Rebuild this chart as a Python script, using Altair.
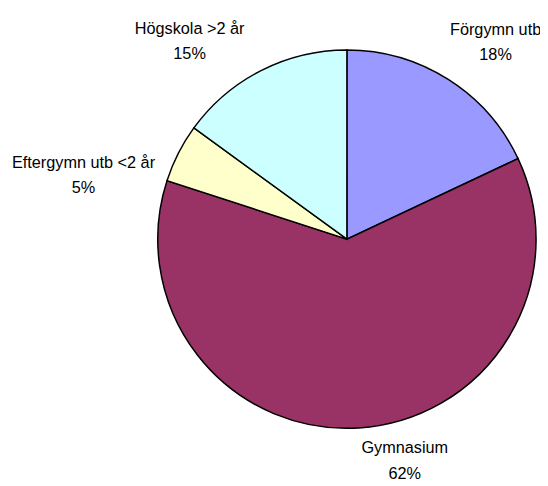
import altair as alt
import pandas as pd

categories = ["Förgymn utb", "Gymnasium", "Eftergymn utb <2 år", "Högskola >2 år"]
values = [18, 62, 5, 15]
colors = ["#9999FF", "#993366", "#FFFFCC", "#CCFFFF"]

df = pd.DataFrame({
    "cat": categories,
    "value": values,
    "order": list(range(len(categories))),
    "label": [f"{c}\n{v}%" for c, v in zip(categories, values)],
})

CX, CY, R = 344, 231, 192
FONT = "Liberation Sans"

base = (
    alt.Chart(df)
    .transform_window(cum="sum(value)", sort=[alt.SortField("order")], frame=[None, 0])
    .transform_joinaggregate(total="sum(value)")
    .transform_calculate(mid="(datum.cum - datum.value/2)/datum.total*2*PI")
)

arcs = base.mark_arc(radius=R, stroke="black", strokeWidth=1.5).encode(
    theta=alt.Theta("value:Q", stack=True),
    order=alt.Order("order:Q"),
    color=alt.Color("cat:N", scale=alt.Scale(domain=categories, range=colors), legend=None),
    x=alt.value(CX),
    y=alt.value(CY),
)

nudges = {
    "Förgymn utb": (25, -14),
    "Gymnasium": (44, -22),
    "Eftergymn utb <2 år": (-58, 29),
    "Högskola >2 år": (-53, -4),
}

layers = [arcs]
for c in categories:
    dx, dy = nudges[c]
    layers.append(
        base.transform_filter(alt.datum.cat == c)
        .mark_text(radius=235, dx=dx, dy=dy, lineBreak="\n", font=FONT, fontSize=16.5,
                   lineHeight=26, align="center", baseline="middle", color="black")
        .encode(theta=alt.Theta("mid:Q", scale=None), text="label:N",
                x=alt.value(CX), y=alt.value(CY))
    )

chart = (
    alt.layer(*layers)
    .properties(width=540, height=478, padding=0, autosize="none")
    .configure_view(stroke=None)
)

chart.save("out.html", embed_options={"renderer": "svg", "actions": False})
